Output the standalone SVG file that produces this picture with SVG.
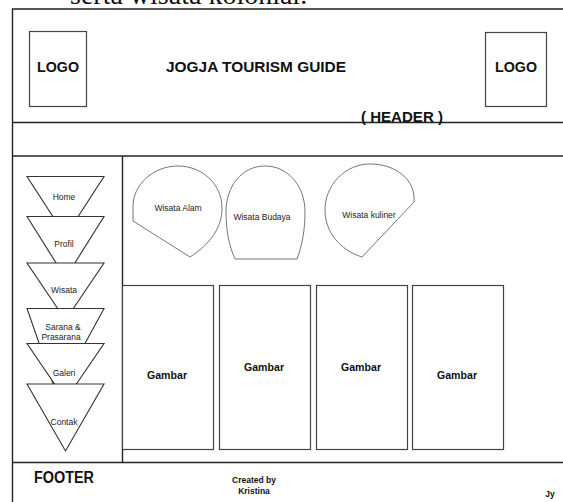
<svg xmlns="http://www.w3.org/2000/svg" width="563" height="502" viewBox="0 0 563 502">
<style>
.frame{fill:none;stroke:#222;stroke-width:1.4}
.box{fill:#fff;stroke:#444;stroke-width:1.2}
.tri{fill:#fff;stroke:#333;stroke-width:1.1}
.bub{fill:#fff;stroke:#777;stroke-width:1}
.b{font-family:"Liberation Sans",Arial,sans-serif;font-weight:bold;fill:#111;text-anchor:middle}
.s{font-family:"Liberation Sans",Arial,sans-serif;font-size:8.5px;fill:#222;text-anchor:middle}
</style>
<rect width="563" height="502" fill="#fff"/>
<text x="70" y="4" font-family="'Liberation Serif','Times New Roman',serif" font-size="28" fill="#111">serta wisata kolonial.</text>
<g id="layout" class="frame">
<path d="M12.5,502 V9 H563"/>
<path d="M12.5,122.5 H563"/>
<path d="M12.5,156 H563"/>
<path d="M122.5,156 V462.5"/>
<path d="M12.5,462.5 H563"/>
</g>
<g id="logo-left"><rect class="box" x="29.5" y="31.5" width="57" height="75"/><text class="b" x="58" y="72" font-size="15" textLength="42" lengthAdjust="spacingAndGlyphs">LOGO</text></g>
<g id="title"><text class="b" x="256" y="72" font-size="15" textLength="180" lengthAdjust="spacingAndGlyphs">JOGJA TOURISM  GUIDE</text></g>
<g id="logo-right"><rect class="box" x="485.5" y="32.5" width="61" height="74"/><text class="b" x="516" y="72" font-size="15" textLength="42" lengthAdjust="spacingAndGlyphs">LOGO</text></g>
<g id="header-label"><text class="b" x="402" y="122" font-size="15.5" textLength="82" lengthAdjust="spacingAndGlyphs">( HEADER )</text></g>
<g id="menu">
<g id="home"><path class="tri" d="M27,176.5 H104 L65.5,236 Z"/><text class="s" x="64" y="200">Home</text></g>
<g id="profil"><path class="tri" d="M27,216.5 H104 L65.5,278 Z"/><text class="s" x="64" y="247">Profil</text></g>
<g id="wisata"><path class="tri" d="M27,263 H104 L65.5,320 Z"/><text class="s" x="64" y="293">Wisata</text></g>
<g id="sarana"><path class="tri" d="M27,308.5 H104 L57,395 Z"/><text class="s" x="63" y="330">Sarana &amp;</text><text class="s" x="61" y="340">Prasarana</text></g>
<g id="galeri"><path class="tri" d="M27,343.5 H104 L65.5,400 Z"/><text class="s" x="64" y="376">Galeri</text></g>
<g id="contak"><path class="tri" d="M27,384 H104 L65.5,451 Z"/><text class="s" x="64" y="425">Contak</text></g>
</g>
<g id="wisata-alam"><path class="bub" d="M133,221 L190,257 C210,244 222,228 222,208 C222,184 202,166 178,166 C152,166 133,186 133,206 Z"/><text class="s" x="178" y="211">Wisata Alam</text></g>
<g id="wisata-budaya"><path class="bub" d="M235,259 L297,259 C302,246 305,230 305,212 C305,186 288,166 265,166 C242,166 226,186 226,212 C226,230 229,246 235,259 Z"/><text class="s" x="262" y="220">Wisata Budaya</text></g>
<g id="wisata-kuliner"><path class="bub" d="M362,257 L414,202 C416,180 396,164 370,164 C345,164 325,185 325,210 C325,232 340,250 362,257 Z"/><text class="s" x="369" y="218">Wisata kuliner</text></g>
<g id="gambar1"><rect class="box" x="122.5" y="285.5" width="91" height="164"/><text class="b" x="167" y="379" font-size="11.5" textLength="40" lengthAdjust="spacingAndGlyphs">Gambar</text></g>
<g id="gambar2"><rect class="box" x="219.5" y="285.5" width="91" height="164"/><text class="b" x="264" y="371" font-size="11.5" textLength="40" lengthAdjust="spacingAndGlyphs">Gambar</text></g>
<g id="gambar3"><rect class="box" x="316.5" y="285.5" width="91" height="164"/><text class="b" x="361" y="371" font-size="11.5" textLength="40" lengthAdjust="spacingAndGlyphs">Gambar</text></g>
<g id="gambar4"><rect class="box" x="412.5" y="285.5" width="91" height="164"/><text class="b" x="457" y="379" font-size="11.5" textLength="40" lengthAdjust="spacingAndGlyphs">Gambar</text></g>
<g id="footer">
<text class="b" x="64" y="483" font-size="16" textLength="60" lengthAdjust="spacingAndGlyphs">FOOTER</text>
<text class="b" x="254" y="483" font-size="8.5">Created by</text>
<text class="b" x="254" y="494" font-size="8.5">Kristina</text>
<text class="b" x="550" y="497" font-size="8.5">Jy</text>
</g>
</svg>
